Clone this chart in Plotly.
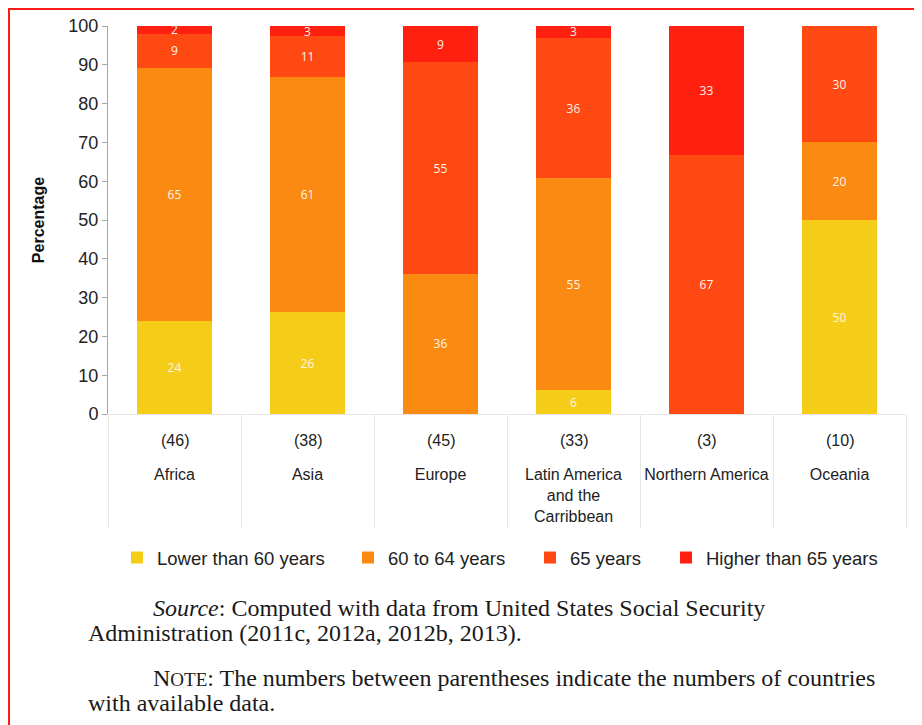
import plotly.graph_objects as go

# ---------------- data ----------------
regions = ["Africa", "Asia", "Europe", "Latin America<br>and the<br>Carribbean",
           "Northern America", "Oceania"]
country_counts = ["(46)", "(38)", "(45)", "(33)", "(3)", "(10)"]

series_names = ["Lower than 60 years", "60 to 64 years", "65 years", "Higher than 65 years"]
lower_than_60 = [24.0, 26.2, 0.0, 6.1, 0.0, 50.0]
from_60_to_64 = [65.3, 60.6, 36.1, 54.6, 0.0, 20.0]
age_65 = [8.7, 10.6, 54.6, 36.3, 66.7, 30.0]
higher_than_65 = [2.0, 2.6, 9.3, 3.0, 33.3, 0.0]

y_ticks = [0, 10, 20, 30, 40, 50, 60, 70, 80, 90, 100]

# ---------------- styling ----------------
OFF = 8  # page body margin of the html page
W, H = 922, 725
ML, MT = 108 - OFF, 26 - OFF
PR, PB = 906 - OFF, 414 - OFF
MR, MB = W - PR, H - PB
PW, PH = PR - ML, PB - MT

def px_x(px):
    return (px - OFF - ML) / PW

def px_y(py):
    return (PB - (py - OFF)) / PH

colors = ["#F5CD19", "#FB8A13", "#FF4912", "#FF2010"]
values = [lower_than_60, from_60_to_64, age_65, higher_than_65]
legend_ids = ["legend", "legend2", "legend3", "legend4"]
legend_text_px = [157, 388, 570, 706]

fig = go.Figure()
for name, vals, col, lid in zip(series_names, values, colors, legend_ids):
    fig.add_trace(go.Bar(
        name=name,
        x=regions,
        y=vals,
        marker=dict(color=col, line=dict(width=0)),
        text=[f"{v:.0f}" if v > 0 else "" for v in vals],
        textposition="inside",
        insidetextanchor="middle",
        textangle=0,
        constraintext="none",
        textfont=dict(family="Open Sans, Arial", size=12, color="#FFF4E8"),
        legend=lid,
        hoverinfo="skip",
    ))

legend_common = dict(
    orientation="h",
    yanchor="middle",
    xanchor="left",
    y=px_y(558),
    font=dict(family="Arial, Liberation Sans", size=18.5, color="#222222"),
    bgcolor="rgba(0,0,0,0)",
    itemwidth=30,
    tracegroupgap=0,
)
layout_legends = {}
for lid, tx in zip(legend_ids, legend_text_px):
    layout_legends[lid] = dict(legend_common, x=px_x(tx - 40))

annotations = []
for cat, cnt in zip(regions, country_counts):
    annotations.append(dict(
        x=cat, xref="x", y=px_y(440), yref="paper",
        text=cnt, showarrow=False, xanchor="center", yanchor="middle",
        font=dict(family="Arial, Liberation Sans", size=16, color="#222222"),
    ))

serif = dict(family="Liberation Serif, Times New Roman, serif", size=24, color="#1a1a1a")
note_lines = [
    (151, 608, "<i>Source</i>: Computed with data from United States Social Security"),
    (86, 633, "Administration (2011c, 2012a, 2012b, 2013)."),
    (151, 678, "N<span style='font-size:19px'>OTE</span>: The numbers between parentheses indicate the numbers of countries"),
    (86, 703, "with available data."),
]
for x0, y0, t in note_lines:
    annotations.append(dict(
        x=px_x(x0), xref="paper", y=px_y(y0), yref="paper",
        text=t, showarrow=False, xanchor="left", yanchor="middle", align="left",
        font=serif,
    ))

fig.update_layout(
    width=W, height=H,
    margin=dict(l=ML, r=MR, t=MT, b=MB, pad=0),
    paper_bgcolor="white",
    plot_bgcolor="white",
    barmode="stack",
    bargap=0.43,
    uniformtext=dict(minsize=12, mode="show"),
    showlegend=True,
    annotations=annotations,
    shapes=[dict(
        type="rect", xref="paper", yref="paper",
        x0=px_x(9), x1=px_x(960), y0=px_y(780), y1=px_y(9),
        line=dict(color="#FF1A1A", width=2), fillcolor="rgba(0,0,0,0)", layer="above",
    )],
    **layout_legends,
)

fig.update_xaxes(
    type="category",
    tickson="boundaries",
    ticks="outside",
    ticklen=113,
    tickcolor="#E6E6E6",
    tickwidth=1,
    showline=True,
    linecolor="#E6E6E6",
    linewidth=1,
    showgrid=False,
    tickangle=0,
    automargin=False,
    tickfont=dict(family="Arial, Liberation Sans", size=16, color="#222222"),
    ticklabelstandoff=46,
)
fig.update_yaxes(
    range=[0, 100],
    tickvals=y_ticks,
    ticks="outside",
    ticklen=5,
    tickcolor="#A6A6A6",
    showline=True,
    linecolor="#A6A6A6",
    linewidth=1,
    showgrid=False,
    zeroline=False,
    automargin=False,
    tickfont=dict(family="Arial, Liberation Sans", size=18, color="#222222"),
    title=dict(text="<b>Percentage</b>", standoff=19,
               font=dict(family="Arial, Liberation Sans", size=16, color="#111111")),
)

fig.write_html("out.html")
